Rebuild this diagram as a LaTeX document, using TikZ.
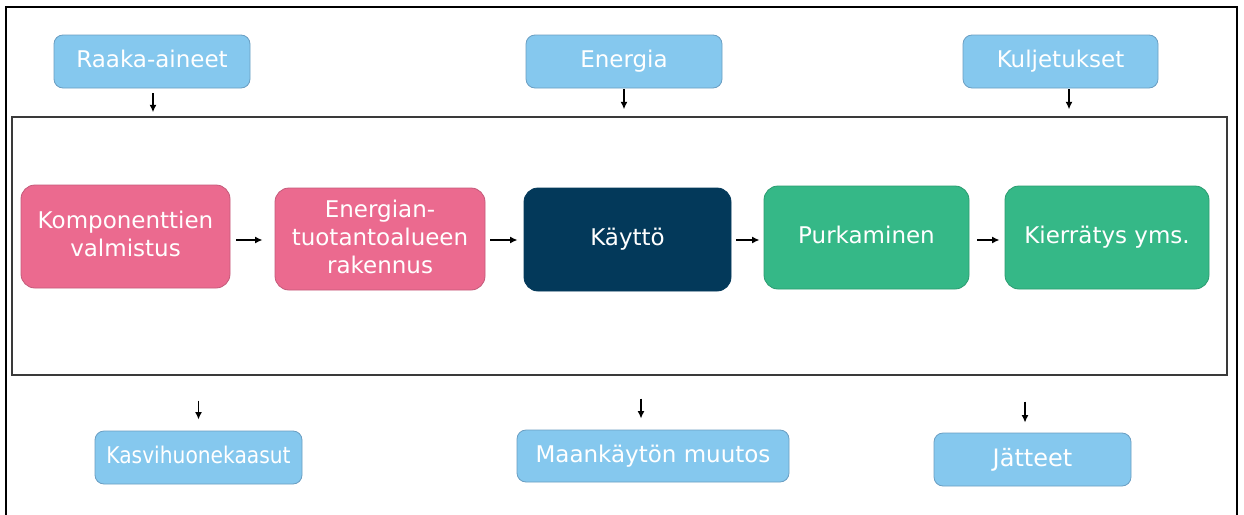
\documentclass[tikz,border=0pt]{standalone}
\usepackage{fontspec}
\setmainfont{DejaVu Sans}
\usetikzlibrary{arrows.meta}
\definecolor{skyb}{HTML}{85C8EE}
\definecolor{skybd}{HTML}{6A9EC2}
\definecolor{pinkb}{HTML}{EB6A8F}
\definecolor{pinkbd}{HTML}{C45A7A}
\definecolor{navyb}{HTML}{03395A}
\definecolor{greenb}{HTML}{35B887}
\definecolor{greenbd}{HTML}{2A9C70}
\definecolor{framec}{HTML}{3A3A3A}
\newcommand\mystrut{\rule[-5pt]{0pt}{22pt}}
\tikzset{
  txt/.style={font=\fontsize{23}{28}\selectfont, text=white, align=center, inner sep=0pt},
  smallbox/.style={txt, fill=skyb, draw=skybd, line width=0.8pt, rounded corners=9pt},
  bigbox/.style={txt, rounded corners=14pt, line width=0.8pt},
  arr/.style={line width=1.8pt, -{Latex[length=7.5pt,width=7pt]}},
}
\begin{document}
\begin{tikzpicture}[x=1pt,y=-1pt]
\useasboundingbox (0,0) rectangle (1244,514);
\fill[white] (0,0) rectangle (1244,514);
% outer frame
\draw[line width=2pt, black] (6,530) -- (6,7) -- (1237,7) -- (1237,530);
% inner frame
\node[draw=framec, line width=1.3pt, minimum width=1215pt, minimum height=258pt, inner sep=0pt] (frame) at (619.5,246) {};

% top boxes
\node[smallbox, minimum width=196pt, minimum height=53pt] (raaka) at (152,61.5) {\mystrut Raaka-aineet};
\node[smallbox, minimum width=196pt, minimum height=53pt] (energia) at (624,61.5) {\mystrut Energia};
\node[smallbox, minimum width=195pt, minimum height=53pt] (kulj) at (1060.5,61.5) {\mystrut Kuljetukset};

% process boxes
\node[bigbox, fill=pinkb, draw=pinkbd, minimum width=209pt, minimum height=103pt] (komp) at (125.5,236.5) {\mystrut Komponenttien\\valmistus\mystrut};
\node[bigbox, fill=pinkb, draw=pinkbd, minimum width=210pt, minimum height=102pt] (ener) at (380,239) {\mystrut Energian-\\tuotantoalueen\\rakennus\mystrut};
\node[bigbox, fill=navyb, draw=navyb, minimum width=207pt, minimum height=103pt] (kaytto) at (627.5,239.5) {\mystrut Käyttö};
\node[bigbox, fill=greenb, draw=greenbd, minimum width=205pt, minimum height=103pt] (purk) at (866.5,237.5) {\mystrut Purkaminen};
\node[bigbox, fill=greenb, draw=greenbd, minimum width=204pt, minimum height=103pt] (kierr) at (1107,237.5) {\mystrut Kierrätys yms.};

% bottom boxes
\node[smallbox, minimum width=207pt, minimum height=53pt] (kasvi) at (198.5,457.5) {\mystrut\scalebox{0.88}[1]{Kasvihuonekaasut}};
\node[smallbox, minimum width=272pt, minimum height=52pt] (maan) at (653,456) {\mystrut Maankäytön muutos};
\node[smallbox, minimum width=197pt, minimum height=53pt] (jatt) at (1032.5,459.5) {\mystrut{\fontsize{24}{28}\selectfont Jätteet}};

% top arrows
\draw[arr] ([xshift=1pt,yshift=-5pt]raaka.south) -- ([xshift=1pt,yshift=4pt]raaka.south |- frame.north);
\draw[arr] ([yshift=-1pt]energia.south) -- ([yshift=7pt]energia.south |- frame.north);
\draw[arr] ([xshift=8.5pt,yshift=-1pt]kulj.south) -- ([xshift=8.5pt,yshift=7pt]kulj.south |- frame.north);

% process arrows
\draw[arr] ([xshift=6pt]komp.east |- 0,240) -- ([xshift=-12pt]ener.west |- 0,240);
\draw[arr] ([xshift=5pt]ener.east |- 0,240) -- ([xshift=-6pt]kaytto.west |- 0,240);
\draw[arr] ([xshift=5pt]kaytto.east |- 0,240) -- ([xshift=-4pt]purk.west |- 0,240);
\draw[arr] ([xshift=8pt]purk.east |- 0,240) -- ([xshift=-5pt]kierr.west |- 0,240);

% bottom arrows
\draw[arr] ([yshift=-25pt]kasvi.north |- frame.south) -- ([yshift=11pt]kasvi.north);
\draw[arr] ([xshift=-12pt,yshift=-23pt]maan.north |- frame.south) -- ([xshift=-12pt,yshift=11pt]maan.north);
\draw[arr] ([xshift=-7.5pt,yshift=-26pt]jatt.north |- frame.south) -- ([xshift=-7.5pt,yshift=10pt]jatt.north);
\end{tikzpicture}
\end{document}
